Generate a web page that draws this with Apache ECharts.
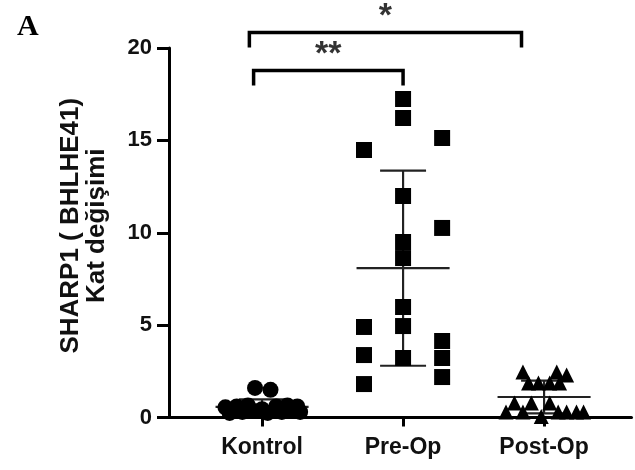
<!DOCTYPE html>
<html><head><meta charset="utf-8">
<script src="https://cdn.jsdelivr.net/npm/echarts@6/dist/echarts.min.js"></script>
<style>html,body{margin:0;padding:0;background:#fff}#c{width:635px;height:470px}</style>
</head><body><div id="c"></div>
<script>
const categories = ['Kontrol', 'Pre-Op', 'Post-Op'];
const yTickValues = [0, 5, 10, 15, 20];

// Kontrol (circles): value and horizontal jitter (in category units)
const kontrolValues = [0.55, 0.25, 0.6, 0.3, 0.65, 0.35, 1.6, 0.45, 1.5, 0.25, 0.6, 0.3, 0.65, 0.35, 0.6, 0.3];
const kontrolJitter = [-0.26, -0.23, -0.18, -0.14, -0.10, -0.06, -0.05, 0.0, 0.06, 0.04, 0.10, 0.14, 0.18, 0.21, 0.25, 0.27];

// Pre-Op (squares)
const preOpValues = [17.24, 16.21, 11.99, 9.50, 8.63, 5.98, 4.95, 3.22, 14.48, 4.90, 3.38, 1.81, 15.13, 10.26, 4.14, 3.22, 2.19];
const preOpJitter = [0, 0, 0, 0, 0, 0, 0, 0, -0.277, -0.277, -0.277, -0.277, 0.277, 0.277, 0.277, 0.277, 0.277];

// Post-Op (triangles)
const postOpValues = [2.46, 2.46, 2.3, 1.87, 1.87, 1.87, 1.87, 0.78, 0.78, 0.78, 0.3, 0.3, 0.3, 0.3, 0.3, 0.3, 0.05];
const postOpJitter = [-0.15, 0.09, 0.16, -0.11, -0.04, 0.04, 0.11, -0.21, -0.09, 0.04, -0.27, -0.15, 0.10, 0.16, 0.23, 0.28, -0.02];

// Mean and SD
const meanValues = [0.58, 8.08, 1.11];
const sdValues = [0.40, 5.28, 0.89];

// Significance brackets (x in category units, y in data units)
const bracketFrom = [0.91, 0.94];
const bracketTo = [2.84, 2.0];
const bracketTop = [20.84, 18.78];
const bracketFoot = [20.03, 17.97];
const bracketLabels = ['*', '**'];

const chart = echarts.init(document.getElementById('c'), null, {renderer: 'canvas'});
const FONT = '"Liberation Sans", Arial, sans-serif';

function pts(vals, jit, cat) {
  return vals.map((v, i) => [cat + jit[i], v]);
}

const bracketSeries = bracketFrom.map((f, i) => ({
  type: 'line',
  data: [[f, bracketFoot[i]], [f, bracketTop[i]], [bracketTo[i], bracketTop[i]], [bracketTo[i], bracketFoot[i]]],
  symbol: 'none',
  clip: false,
  silent: true,
  lineStyle: {color: '#000', width: 3.5, join: 'miter'},
  z: 5
}));

const starSeries = {
  type: 'scatter',
  clip: false,
  silent: true,
  symbolSize: 0,
  data: bracketFrom.map((f, i) => ({
    value: [(f + bracketTo[i]) / 2, bracketTop[i] + 0.85],
    label: {show: true, formatter: bracketLabels[i]}
  })),
  label: {show: true, position: 'inside', color: '#000', fontFamily: FONT, fontWeight: 'bold', fontSize: 34},
  z: 6
};

const meanSdSeries = {
  type: 'custom',
  clip: false,
  silent: true,
  data: categories.map((c, i) => [i + 1, meanValues[i], sdValues[i]]),
  renderItem: function (params, api) {
    const x = api.value(0), m = api.value(1), s = api.value(2);
    const lo = Math.max(m - s, 0), hi = m + s;
    const ml = api.coord([x - 0.33, m]), mr = api.coord([x + 0.33, m]);
    const top = api.coord([x, hi]), bot = api.coord([x, lo]);
    const cl = api.coord([x - 0.163, hi]), cr = api.coord([x + 0.163, hi]);
    const bl = api.coord([x - 0.163, lo]), br = api.coord([x + 0.163, lo]);
    const st = {stroke: '#222', lineWidth: 2.2, fill: null};
    return {
      type: 'group',
      children: [
        {type: 'line', shape: {x1: ml[0], y1: ml[1], x2: mr[0], y2: mr[1]}, style: st},
        {type: 'line', shape: {x1: top[0], y1: top[1], x2: bot[0], y2: bot[1]}, style: st},
        {type: 'line', shape: {x1: cl[0], y1: cl[1], x2: cr[0], y2: cr[1]}, style: st},
        {type: 'line', shape: {x1: bl[0], y1: bl[1], x2: br[0], y2: br[1]}, style: st}
      ]
    };
  },
  z: 2
};

const markStyle = {color: '#000', opacity: 1};

const option = {
  backgroundColor: '#fff',
  animation: false,
  title: {
    text: 'A', left: 12, top: 7,
    textStyle: {fontFamily: '"Liberation Serif", "Times New Roman", serif', fontWeight: 'bold', fontSize: 30, color: '#000'}
  },
  grid: {left: 169, right: 3.5, top: 48, bottom: 52.5, containLabel: false},
  xAxis: {
    type: 'value',
    min: 0.34,
    max: 3.62,
    axisLine: {show: true, onZero: false, lineStyle: {color: '#000', width: 3}},
    axisTick: {show: true, customValues: [1, 2, 3], length: 9, lineStyle: {color: '#000', width: 3}},
    axisLabel: {
      show: true, customValues: [1, 2, 3], margin: 19,
      formatter: v => categories[Math.round(v) - 1] || '',
      fontFamily: FONT, fontWeight: 'bold', fontSize: 23, color: '#111'
    },
    splitLine: {show: false}
  },
  yAxis: {
    type: 'value',
    min: 0,
    max: 20,
    interval: 5,
    name: 'SHARP1 ( BHLHE41)\nKat değişimi',
    nameLocation: 'middle',
    nameRotate: 90,
    nameGap: 59,
    nameTextStyle: {fontFamily: FONT, fontWeight: 'bold', fontSize: 26, color: '#111', lineHeight: 26, padding: [0, 0, 0, 14]},
    axisLine: {show: true, lineStyle: {color: '#000', width: 3}},
    axisTick: {show: true, length: 12, lineStyle: {color: '#000', width: 3}},
    axisLabel: {
      margin: 17, fontFamily: FONT, fontWeight: 'bold', fontSize: 22, color: '#111',
      formatter: v => yTickValues.includes(v) ? String(v) : ''
    },
    splitLine: {show: false}
  },
  series: [
    meanSdSeries,
    {type: 'scatter', data: pts(kontrolValues, kontrolJitter, 1), symbol: 'circle', symbolSize: 16, itemStyle: markStyle, z: 3, clip: false},
    {type: 'scatter', data: pts(preOpValues, preOpJitter, 2), symbol: 'rect', symbolSize: 16, itemStyle: markStyle, z: 3, clip: false},
    {type: 'scatter', data: pts(postOpValues, postOpJitter, 3), symbol: 'triangle', symbolSize: 15, itemStyle: markStyle, z: 3, clip: false},
    ...bracketSeries,
    starSeries
  ]
};
chart.setOption(option);
</script>
</body></html>
